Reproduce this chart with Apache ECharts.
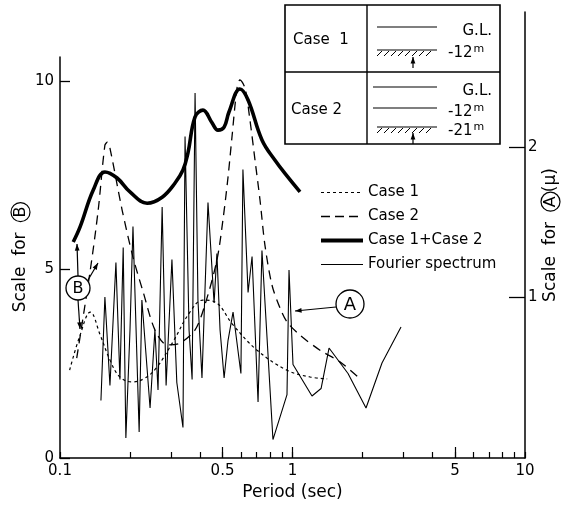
<!DOCTYPE html>
<html>
<head>
<meta charset="utf-8" />
<script src="https://cdn.jsdelivr.net/npm/echarts@6/dist/echarts.min.js"></script>
</head>
<body style="margin:0;background:#fff;">
<div id="chart" style="width:567px;height:508px;"></div>
<script type="text/javascript">
// period (sec) / scale B values
var case1Period = [0.110, 0.122, 0.135, 0.149, 0.164, 0.181, 0.204, 0.232, 0.261, 0.306, 0.362, 0.412, 0.464, 0.555, 0.704, 0.947, 1.19, 1.41];
var case1B = [2.33, 3.26, 3.87, 3.26, 2.60, 2.15, 2.02, 2.12, 2.41, 3.08, 3.87, 4.19, 4.14, 3.53, 2.86, 2.33, 2.15, 2.10];

var case2Period = [0.118, 0.135, 0.146, 0.156, 0.160, 0.164, 0.185, 0.206, 0.228, 0.256, 0.289, 0.328, 0.381, 0.420, 0.473, 0.502, 0.528, 0.549, 0.577, 0.594, 0.625, 0.656, 0.690, 0.725, 0.761, 0.816, 0.884, 0.947, 1.077, 1.313, 1.600, 1.913];
var case2B = [2.65, 4.99, 6.58, 8.30, 8.38, 8.22, 6.58, 5.33, 4.40, 3.40, 3.00, 3.05, 3.40, 4.06, 5.25, 6.31, 7.45, 8.51, 9.81, 10.03, 9.81, 8.97, 7.90, 6.84, 5.65, 4.59, 3.98, 3.61, 3.26, 2.86, 2.55, 2.15];

var sumPeriod = [0.114, 0.122, 0.139, 0.156, 0.176, 0.200, 0.237, 0.275, 0.312, 0.338, 0.355, 0.381, 0.412, 0.451, 0.478, 0.508, 0.533, 0.594, 0.644, 0.739, 0.841, 0.956, 1.077];
var sumB = [5.73, 6.13, 7.11, 7.59, 7.43, 7.06, 6.76, 6.92, 7.29, 7.64, 8.09, 9.05, 9.23, 8.89, 8.70, 8.78, 9.18, 9.79, 9.50, 8.44, 7.90, 7.45, 7.06];

// fourier spectrum, scale A (micron)
var fourierPeriod = [0.150, 0.156, 0.164, 0.174, 0.181, 0.187, 0.192, 0.200, 0.206, 0.219, 0.225, 0.244, 0.256, 0.264, 0.275, 0.286, 0.303, 0.318, 0.338, 0.345, 0.359, 0.370, 0.381, 0.392, 0.408, 0.433, 0.460, 0.473, 0.488, 0.508, 0.528, 0.555, 0.600, 0.612, 0.644, 0.670, 0.711, 0.739, 0.824, 0.947, 0.966, 1.005, 1.213, 1.327, 1.436, 1.733, 2.071, 2.426, 2.929];
var fourierA = [0.31, 1.00, 0.41, 1.23, 0.45, 1.33, 0.06, 0.78, 1.47, 0.10, 0.98, 0.26, 0.78, 0.38, 1.60, 0.41, 1.25, 0.43, 0.13, 2.07, 0.78, 0.45, 2.36, 0.98, 0.46, 1.63, 0.96, 1.29, 0.78, 0.46, 0.71, 0.90, 0.49, 1.85, 1.03, 1.27, 0.30, 1.31, 0.05, 0.35, 1.18, 0.55, 0.34, 0.39, 0.66, 0.49, 0.26, 0.56, 0.80];

var majorTicks = [0.1, 0.5, 1, 5, 10];
var minorTicks = [0.1, 0.2, 0.3, 0.4, 0.5, 0.6, 0.7, 0.8, 0.9, 1, 2, 3, 4, 5, 6, 7, 8, 9, 10];
var midTicks = [0.5, 1, 5];
var leftTicks = [0, 5, 10];
var rightTicks = [1, 2];

function lg(a) { return a.map(function (v) { return Math.log10(v); }); }
function pairs(px, py) { return px.map(function (p, i) { return [Math.log10(p), py[i]]; }); }

var FONT = 'DejaVu Sans';
var black = '#000';

// annotation helpers
function line(x1, y1, x2, y2, w) {
    return { type: 'line', shape: { x1: x1, y1: y1, x2: x2, y2: y2 }, style: { stroke: black, lineWidth: w || 1.2 }, z: 100 };
}
function arrow(x1, y1, x2, y2) {
    var a = Math.atan2(y2 - y1, x2 - x1), L = 7, s = 0.35;
    return [line(x1, y1, x2, y2, 1.2), {
        type: 'polygon', z: 100,
        shape: { points: [[x2, y2], [x2 - L * Math.cos(a - s), y2 - L * Math.sin(a - s)], [x2 - L * Math.cos(a + s), y2 - L * Math.sin(a + s)]] },
        style: { fill: black }
    }];
}
function txt(x, y, t, opt) {
    var st = { text: t, x: x, y: y, fill: black, font: '15px "' + FONT + '"', verticalAlign: 'middle', align: 'left',
        rich: { sup: { fontSize: 11, fontFamily: FONT, verticalAlign: 'top', padding: [0, 0, 8, 1] } } };
    for (var k in opt) st[k] = opt[k];
    return { type: 'text', style: st, z: 101 };
}
function hatched(x1, x2, y) {
    var g = [line(x1, y, x2, y, 1.2)];
    for (var x = x1 + 5; x <= x2; x += 7) g.push(line(x, y + 1, x - 5, y + 6, 1));
    return g;
}

var graphics = [
    { type: 'rect', shape: { x: 285, y: 5, width: 215, height: 139 }, style: { fill: '#fff', stroke: black, lineWidth: 1.6 }, z: 99 },
    line(367, 5, 367, 144, 1.4),
    line(285, 72, 500, 72, 1.4),
    txt(293, 40, 'Case  1'),
    txt(291, 110, 'Case 2'),
    line(377, 27, 437, 27),
    txt(492, 31, 'G.L.', { align: 'right' }),
    txt(448, 53, '-12{sup|m}'),
    line(373, 87, 437, 87),
    txt(492, 91, 'G.L.', { align: 'right' }),
    line(373, 108, 437, 108),
    txt(448, 112, '-12{sup|m}'),
    txt(448, 131, '-21{sup|m}'),
    { type: 'circle', shape: { cx: 78, cy: 288, r: 12 }, style: { fill: '#fff', stroke: black, lineWidth: 1.3 }, z: 100 },
    txt(78, 289, 'B', { align: 'center', font: '16px "' + FONT + '"' }),
    { type: 'circle', shape: { cx: 350, cy: 304, r: 14 }, style: { fill: '#fff', stroke: black, lineWidth: 1.3 }, z: 100 },
    txt(350, 305, 'A', { align: 'center', font: '18px "' + FONT + '"' })
]
    .concat(hatched(377, 437, 50))
    .concat(hatched(377, 437, 127))
    .concat(arrow(413, 68, 413, 57))
    .concat(arrow(413, 144, 413, 133))
    .concat(arrow(78, 276, 77, 244))
    .concat(arrow(78, 300, 80, 329))
    .concat(arrow(88, 280, 98, 263))
    .concat(arrow(336, 307, 295, 311));

var circ = { borderColor: black, borderWidth: 1.2, borderRadius: 10, padding: [2, 4, 1, 4], fontSize: 16, fontFamily: FONT, color: black };

var chart = echarts.init(document.getElementById('chart'));
var option = {
    animation: false,
    backgroundColor: '#fff',
    color: [black],
    textStyle: { fontFamily: FONT, color: black },
    grid: [
        { left: 60, right: 42, top: 57, bottom: 50, outerBoundsMode: 'none' },
        { left: 60, right: 42, top: 12, bottom: 50, outerBoundsMode: 'none' }
    ],
    legend: {
        orient: 'vertical', left: 314, top: 180, itemWidth: 42, itemHeight: 12, itemGap: 9,
        textStyle: { fontSize: 15, color: black, fontFamily: FONT },
        itemStyle: { opacity: 0 },
        data: [
            { name: 'Case 1', lineStyle: { width: 1.2, type: [3, 3] } },
            { name: 'Case 2', lineStyle: { width: 1.3, type: [9, 5] } },
            { name: 'Case 1+Case 2', lineStyle: { width: 4 } },
            { name: 'Fourier spectrum', lineStyle: { width: 1.2 } }
        ]
    },
    xAxis: [
        {
            gridIndex: 0, type: 'value', min: -1, max: 1,
            axisLine: { onZero: false, lineStyle: { color: black, width: 1.5 } },
            axisTick: { inside: true, length: 6, customValues: lg(minorTicks), lineStyle: { color: black, width: 1.2 } },
            axisLabel: {
                customValues: lg(majorTicks), color: black, fontSize: 15, margin: 6,
                formatter: function (v) { return String(parseFloat(Math.pow(10, v).toPrecision(3))); }
            },
            splitLine: { show: false },
            name: 'Period (sec)', nameLocation: 'middle', nameGap: 26,
            nameTextStyle: { fontSize: 17, color: black, fontFamily: FONT }
        },
        {
            gridIndex: 1, type: 'value', min: -1, max: 1,
            axisLine: { show: false, onZero: false },
            axisTick: { inside: true, length: 11, customValues: lg(midTicks), lineStyle: { color: black, width: 1.2 } },
            axisLabel: { show: false },
            splitLine: { show: false }
        }
    ],
    yAxis: [
        {
            gridIndex: 0, type: 'value', min: 0, max: 10.64, position: 'left',
            axisLine: { show: true, onZero: false, lineStyle: { color: black, width: 1.5 } },
            axisTick: { show: true, inside: true, length: 10, customValues: leftTicks, lineStyle: { color: black, width: 1.3 } },
            axisLabel: { customValues: leftTicks, color: black, fontSize: 15, margin: 6 },
            splitLine: { show: false },
            name: 'Scale  for  {c|B}', nameLocation: 'middle', nameGap: 30, nameRotate: 90, nameMoveOverlap: false,
            nameTextStyle: { fontSize: 17, color: black, fontFamily: FONT, rich: { c: circ } }
        },
        {
            gridIndex: 1, type: 'value', min: -0.073, max: 2.9, position: 'right',
            axisLine: { show: true, onZero: false, lineStyle: { color: black, width: 1.5 } },
            axisTick: { show: true, inside: true, length: 16, customValues: rightTicks, lineStyle: { color: black, width: 1.3 } },
            axisLabel: { customValues: rightTicks, color: black, fontSize: 15, margin: 3 },
            splitLine: { show: false },
            name: 'Scale  for  {c|A}(μ)', nameLocation: 'middle', nameGap: 16, nameRotate: 90, nameMoveOverlap: false,
            nameTextStyle: { fontSize: 17, color: black, fontFamily: FONT, rich: { c: circ } }
        }
    ],
    series: [
        {
            name: 'Case 1', type: 'line', xAxisIndex: 0, yAxisIndex: 0, symbol: 'none', smooth: 0.4,
            lineStyle: { color: black, width: 1.2, type: [3, 3] },
            data: pairs(case1Period, case1B)
        },
        {
            name: 'Case 2', type: 'line', xAxisIndex: 0, yAxisIndex: 0, symbol: 'none', smooth: 0.3,
            lineStyle: { color: black, width: 1.3, type: [9, 6] },
            data: pairs(case2Period, case2B)
        },
        {
            name: 'Case 1+Case 2', type: 'line', xAxisIndex: 0, yAxisIndex: 0, symbol: 'none', smooth: 0.4,
            lineStyle: { color: black, width: 3.6 },
            data: pairs(sumPeriod, sumB)
        },
        {
            name: 'Fourier spectrum', type: 'line', xAxisIndex: 1, yAxisIndex: 1, symbol: 'none',
            lineStyle: { color: black, width: 1.1 },
            data: pairs(fourierPeriod, fourierA)
        }
    ],
    graphic: graphics
};
chart.setOption(option);
</script>
</body>
</html>
